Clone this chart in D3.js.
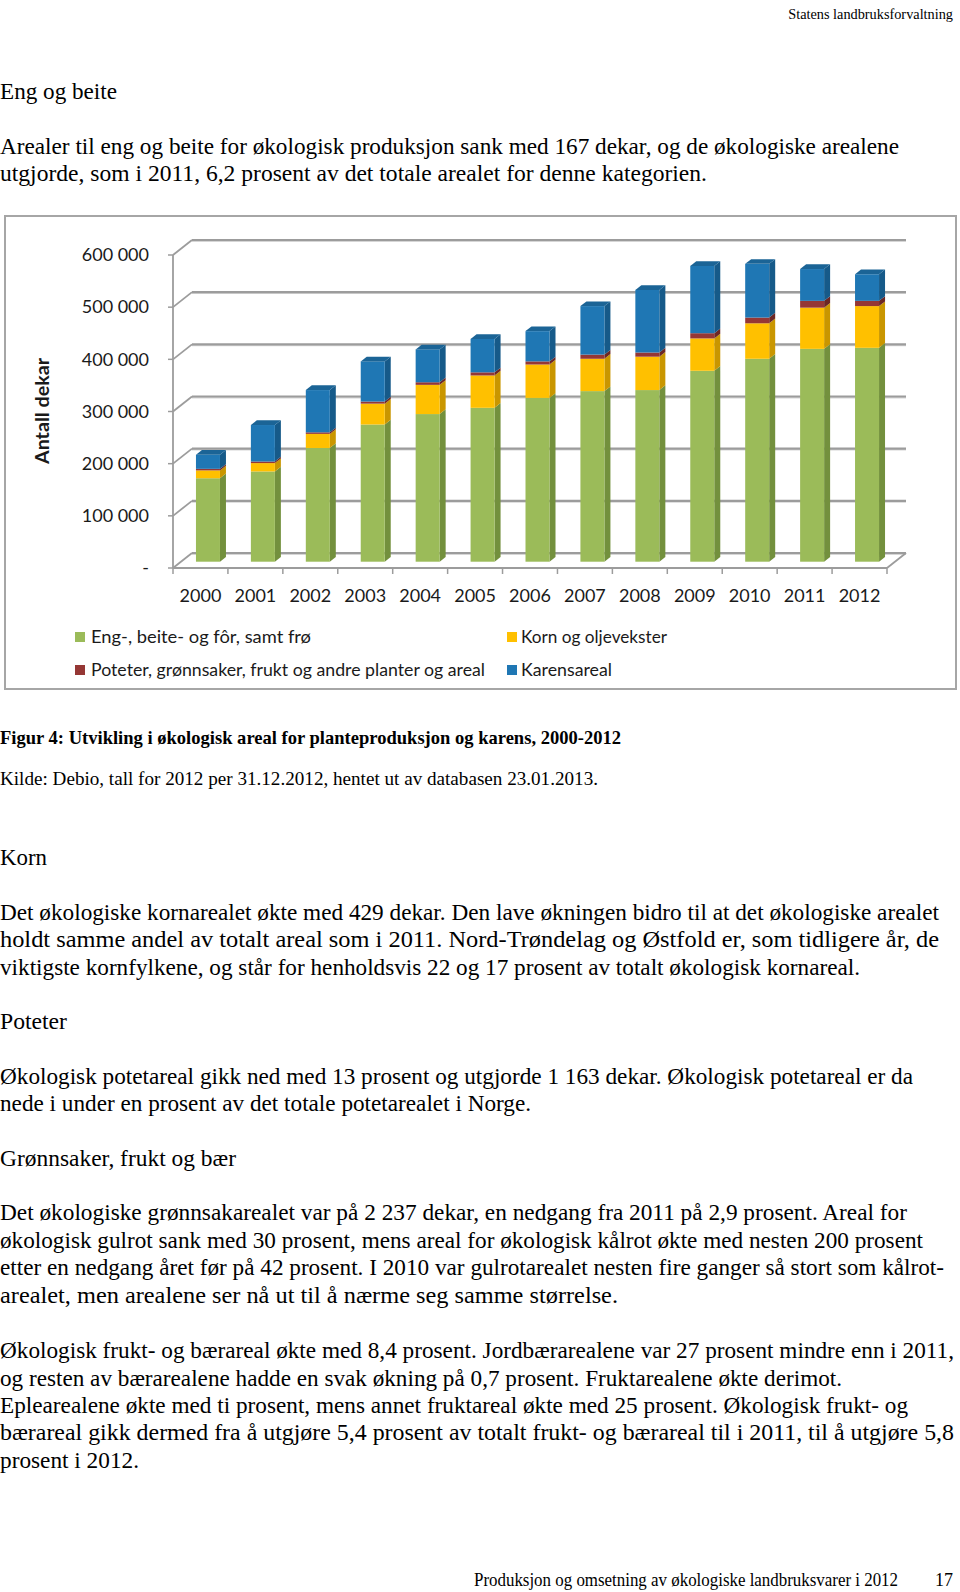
<!DOCTYPE html>
<html>
<head>
<meta charset="utf-8">
<script src="https://cdn.jsdelivr.net/npm/d3@7"></script>
<style>
  html, body { margin: 0; padding: 0; background: #fff; }
  svg { display: block; }
</style>
</head>
<body>
<svg id="page" width="960" height="1592"></svg>
<script>
// ---------- DATA ----------
const years = ["2000","2001","2002","2003","2004","2005","2006","2007","2008","2009","2010","2011","2012"];
const engBeite = [160000,173000,218000,263000,283000,295000,314000,327000,329000,366000,389000,408000,410000];
const kornOlje = [15000,16000,27000,40000,56000,62000,64000,62000,64000,62000,68000,79000,80000];
const poteterMm = [3000,3000,3000,4000,5000,6000,6000,8000,8000,10000,11000,13000,10000];
const karensareal = [27000,70000,81000,77000,63000,64000,58000,93000,120000,129000,103000,61000,51000];
const seriesNames = ["Eng-, beite- og fôr, samt frø","Korn og oljevekster","Poteter, grønnsaker, frukt og andre planter og areal","Karensareal"];
const yTicks = [0,100000,200000,300000,400000,500000,600000];
const yTickLabels = ["-","100 000","200 000","300 000","400 000","500 000","600 000"];

// ---------- STYLE ----------
const keys = ["eng","korn","pot","kar"];
const frontCol = {eng:"#9bbb59", korn:"#ffc000", pot:"#953735", kar:"#1f77b4"};
const sideCol  = {eng:"#73903d", korn:"#c99600", pot:"#6c2725", kar:"#165a89"};
const topCol   = {eng:"#86a64a", korn:"#e0a900", pot:"#7d2e2c", kar:"#1b6496"};

const svg = d3.select("#page");
svg.append("rect").attr("width",960).attr("height",1592).attr("fill","#fff");

const serif = "'Liberation Serif','Times New Roman',serif";
const sans = "Lato,'Open Sans',sans-serif";

function line(txt, x, yc, o) {
  o = o || {};
  const size = o.size || 23;
  const t = svg.append("text")
    .attr("x", x).attr("y", yc + size*0.33)
    .attr("font-family", o.family || serif)
    .attr("font-size", size)
    .attr("font-weight", o.weight || "normal")
    .attr("fill", o.fill || "#000")
    .attr("text-anchor", o.anchor || "start")
    .text(txt);
  if (o.width) t.attr("textLength", o.width).attr("lengthAdjust","spacingAndGlyphs");
  return t;
}

// ---------- PAGE TEXT ----------
line("Statens landbruksforvaltning", 953, 14, {size:14.3, anchor:"end"});
line("Eng og beite", 0, 91, {width:117});
line("Arealer til eng og beite for økologisk produksjon sank med 167 dekar, og de økologiske arealene", 0, 146, {width:899});
line("utgjorde, som i 2011, 6,2 prosent av det totale arealet for denne kategorien.", 0, 173.5, {width:707});

line("Figur 4: Utvikling i økologisk areal for planteproduksjon og karens, 2000-2012", 0, 738, {size:19, weight:"bold", width:621});
line("Kilde: Debio, tall for 2012 per 31.12.2012, hentet ut av databasen 23.01.2013.", 0, 779, {size:19, width:598});

line("Korn", 0, 857.5, {width:47});
line("Det økologiske kornarealet økte med 429 dekar. Den lave økningen bidro til at det økologiske arealet", 0, 912.3, {width:939});
line("holdt samme andel av totalt areal som i 2011. Nord-Trøndelag og Østfold er, som tidligere år, de", 0, 939.7, {width:939});
line("viktigste kornfylkene, og står for henholdsvis 22 og 17 prosent av totalt økologisk kornareal.", 0, 967.1, {width:860});
line("Poteter", 0, 1021.9, {width:67});
line("Økologisk potetareal gikk ned med 13 prosent og utgjorde 1 163 dekar. Økologisk potetareal er da", 0, 1076.7, {width:913});
line("nede i under en prosent av det totale potetarealet i Norge.", 0, 1103.1, {width:531});
line("Grønnsaker, frukt og bær", 0, 1158.9, {width:236});
line("Det økologiske grønnsakarealet var på 2 237 dekar, en nedgang fra 2011 på 2,9 prosent. Areal for", 0, 1212.7, {width:907});
line("økologisk gulrot sank med 30 prosent, mens areal for økologisk kålrot økte med nesten 200 prosent", 0, 1240.1, {width:923});
line("etter en nedgang året før på 42 prosent. I 2010 var gulrotarealet nesten fire ganger så stort som kålrot-", 0, 1267.5, {width:944});
line("arealet, men arealene ser nå ut til å nærme seg samme størrelse.", 0, 1295.9, {width:618});
line("Økologisk frukt- og bærareal økte med 8,4 prosent. Jordbærarealene var 27 prosent mindre enn i 2011,", 0, 1350.7, {width:954});
line("og resten av bærarealene hadde en svak økning på 0,7 prosent. Fruktarealene økte derimot.", 0, 1378.1, {width:842});
line("Eplearealene økte med ti prosent, mens annet fruktareal økte med 25 prosent. Økologisk frukt- og", 0, 1405.5, {width:908});
line("bærareal gikk dermed fra å utgjøre 5,4 prosent av totalt frukt- og bærareal til i 2011, til å utgjøre 5,8", 0, 1432.9, {width:954});
line("prosent i 2012.", 0, 1460.3, {width:139});

line("Produksjon og omsetning av økologiske landbruksvarer i 2012", 474, 1580, {size:18, width:424});
line("17", 953, 1580, {size:18, anchor:"end"});

// ---------- CHART ----------
const g = svg.append("g");
// frame
g.append("rect").attr("x",5).attr("y",216).attr("width",951).attr("height",473)
  .attr("fill","#fff").attr("stroke","#a6a6a6").attr("stroke-width",2);

const x = d3.scaleBand().domain(years).range([173, 887]).paddingInner(0).paddingOuter(0);
const y = d3.scaleLinear().domain([0, 600000]).range([568, 255]);
const wall = {dx:19, dy:-15};      // back wall offset
const barPlane = {dx:7.5, dy:-6.3}; // front face plane of bars
const depth = {dx:6, dy:-4.7};     // bar depth
const barW = 24;
const gridCol = "#9c9c9c";

// back wall gridlines + side wall diagonals + front axis ticks
yTicks.forEach(t => {
  const yf = y(t);
  g.append("line").attr("x1", x.range()[0]+wall.dx).attr("x2", x.range()[1]+wall.dx)
    .attr("y1", yf+wall.dy+1.2).attr("y2", yf+wall.dy+1.2)
    .attr("stroke", "#d6d6d6").attr("stroke-width", 1.5);
  g.append("line").attr("x1", x.range()[0]+wall.dx).attr("x2", x.range()[1]+wall.dx)
    .attr("y1", yf+wall.dy).attr("y2", yf+wall.dy)
    .attr("stroke", gridCol).attr("stroke-width", 2.2);
  g.append("line").attr("x1", 173).attr("y1", yf).attr("x2", 173+wall.dx).attr("y2", yf+wall.dy)
    .attr("stroke", gridCol).attr("stroke-width", 1.8);
  g.append("line").attr("x1", 168).attr("y1", yf).attr("x2", 173).attr("y2", yf)
    .attr("stroke", gridCol).attr("stroke-width", 1.5);
});
// front vertical axis
g.append("line").attr("x1",173).attr("x2",173).attr("y1",y(600000)).attr("y2",y(0))
  .attr("stroke", gridCol).attr("stroke-width", 1.8);
// floor front edge + right diagonal
g.append("line").attr("x1",173).attr("x2",887).attr("y1",y(0)).attr("y2",y(0))
  .attr("stroke", gridCol).attr("stroke-width", 1.8);
g.append("line").attr("x1",887).attr("y1",y(0)).attr("x2",887+wall.dx).attr("y2",y(0)+wall.dy)
  .attr("stroke", gridCol).attr("stroke-width", 1.8);
// category ticks
const bounds = years.map(d => x(d)).concat([x.range()[1]]);
bounds.forEach(bx => {
  g.append("line").attr("x1",bx).attr("x2",bx).attr("y1",y(0)).attr("y2",y(0)+6)
    .attr("stroke", gridCol).attr("stroke-width", 1.5);
});

// y tick labels
yTicks.forEach((t,i) => {
  g.append("text").attr("x",149).attr("y",y(t)).attr("dy","0.35em")
    .attr("text-anchor","end").attr("font-family",sans).attr("font-size",18)
    .attr("fill","#1a1a1a").text(yTickLabels[i]);
});
// x labels
years.forEach(yr => {
  g.append("text").attr("x", x(yr)+x.bandwidth()/2).attr("y",596).attr("dy","0.35em")
    .attr("text-anchor","middle").attr("font-family",sans).attr("font-size",18)
    .attr("fill","#1a1a1a").text(yr);
});
// y axis title
g.append("text").attr("transform","translate(43,411) rotate(-90)")
  .attr("text-anchor","middle").attr("dy","0.35em")
  .attr("font-family",sans).attr("font-weight","bold").attr("font-size",18)
  .attr("textLength",106).attr("lengthAdjust","spacingAndGlyphs")
  .attr("fill","#1a1a1a").text("Antall dekar");

// bars
const rows = years.map((yr,i) => ({year:yr, eng:engBeite[i], korn:kornOlje[i], pot:poteterMm[i], kar:karensareal[i]}));
const stacked = d3.stack().keys(keys)(rows);
const barsG = g.append("g");
years.forEach((yr, i) => {
  const cx = x(yr) + x.bandwidth()/2 + barPlane.dx;
  const x0 = cx - barW/2, x1 = cx + barW/2;
  stacked.forEach((layer, li) => {
    const k = layer.key;
    const v0 = layer[i][0], v1 = layer[i][1];
    const yb = y(v0) + barPlane.dy, yt = y(v1) + barPlane.dy;
    barsG.append("path")
      .attr("d", `M${x1},${yt}L${x1+depth.dx},${yt+depth.dy}L${x1+depth.dx},${yb+depth.dy}L${x1},${yb}Z`)
      .attr("fill", sideCol[k]);
    barsG.append("rect").attr("x", x0).attr("y", yt).attr("width", barW).attr("height", Math.max(0, yb-yt))
      .attr("fill", frontCol[k]);
    if (li === stacked.length-1) {
      barsG.append("path")
        .attr("d", `M${x0},${yt}L${x0+depth.dx},${yt+depth.dy}L${x1+depth.dx},${yt+depth.dy}L${x1},${yt}Z`)
        .attr("fill", topCol[k]);
    }
  });
});

// legend
const legendItems = [
  {k:"eng", name:seriesNames[0], sx:75, tx:91, yc:637, w:220},
  {k:"korn", name:seriesNames[1], sx:507, tx:521, yc:637, w:146},
  {k:"pot", name:seriesNames[2], sx:75, tx:91, yc:670, w:394},
  {k:"kar", name:seriesNames[3], sx:507, tx:521, yc:670, w:91}
];
legendItems.forEach(it => {
  g.append("rect").attr("x", it.sx).attr("y", it.yc-5).attr("width",10).attr("height",10).attr("fill", frontCol[it.k]);
  g.append("text").attr("x", it.tx).attr("y", it.yc).attr("dy","0.35em")
    .attr("font-family",sans).attr("font-size",17).attr("fill","#1a1a1a")
    .attr("textLength", it.w).attr("lengthAdjust","spacingAndGlyphs")
    .text(it.name);
});
</script>
</body>
</html>
